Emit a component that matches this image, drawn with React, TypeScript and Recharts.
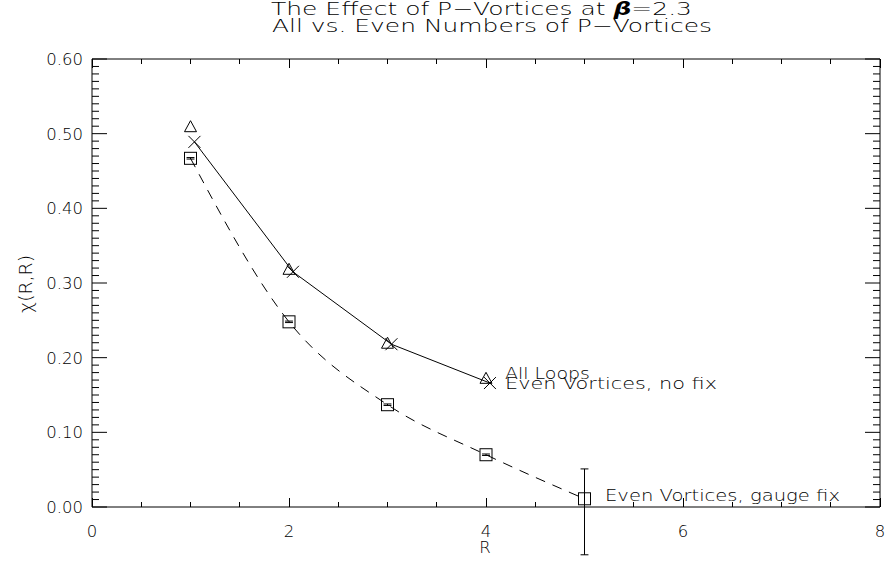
import { ComposedChart, Line, Scatter, XAxis, YAxis, ReferenceLine } from 'recharts';

// tick positions
const xTicks = [0, 0.5, 1, 1.5, 2, 2.5, 3, 3.5, 4, 4.5, 5, 5.5, 6, 6.5, 7, 7.5, 8];
const xLabels = [0, 2, 4, 6, 8];
const yLabels = [0, 0.1, 0.2, 0.3, 0.4, 0.5, 0.6];
const yTicks: number[] = [];
for (let i = 0; i <= 60; i++) yTicks.push(i / 100);

// All loops (triangles)
const allX = [1, 2, 3, 4];
const allY = [0.508, 0.317, 0.218, 0.171];

// Even vortices, no fix (crosses, solid line)
const noFixX = [1.04, 2.04, 3.04, 4.04];
const noFixY = [0.489, 0.315, 0.218, 0.166];

// Even vortices, gauge fix (squares, dashed)
const gaugeX = [1, 2, 3, 4, 5];
const gaugeY = [0.467, 0.248, 0.137, 0.07, 0.011];
const gaugeErrLo = [0.001, 0.001, 0.001, 0.001, 0.075];
const gaugeErrHi = [0.001, 0.001, 0.001, 0.001, 0.04];

const allData = allX.map((x, i) => ({ x, y: allY[i] }));
const noFixData = noFixX.map((x, i) => ({ x, y: noFixY[i] }));
const gaugeData = gaugeX.map((x, i) => ({ x, y: gaugeY[i] }));

const FONT = '"DejaVu Sans", sans-serif';
const near = (a: number, b: number) => Math.abs(a - b) < 1e-6;
const isXMajor = (v: number) => near(v % 2, 0);
const isYMajor = (v: number) => yLabels.some((l) => near(l, v));
const snap = (n: number) => Math.floor(Number(n)) + 0.5;
// y tick length expressed in x units (plot is 788px for 8 units)
const X_PER_PX = 8 / 788;

// labels only; the tick marks are drawn by ReferenceLines below
const BottomLabel = (p: any) => {
  const v = Number(p.payload.value);
  if (!xLabels.some((l) => near(l, v))) return <g />;
  return (
    <text x={p.x} y={Number(p.y) + 30} textAnchor="middle" fontSize={16.5} fontFamily={FONT} fontWeight={200} fill="#000">
      {v}
    </text>
  );
};

const LeftLabel = (p: any) => {
  const v = Number(p.payload.value);
  if (!isYMajor(v)) return <g />;
  return (
    <text x={Number(p.x) - 9} y={Number(p.y) + 6} textAnchor="end" fontSize={16.5} fontFamily={FONT} fontWeight={200} fill="#000">
      {v.toFixed(2)}
    </text>
  );
};

const xTickShape = (v: number) => (p: any) => {
  const len = isXMajor(v) ? 9 : 5;
  const top = Math.min(p.y1, p.y2);
  const bottom = Math.max(p.y1, p.y2);
  const x = snap(p.x1);
  return (
    <path
      d={`M${x},${bottom}V${bottom - len}M${x},${top}V${top + len}`}
      stroke="#000"
      strokeWidth={1}
      fill="none"
      shapeRendering="crispEdges"
    />
  );
};

const Triangle = (p: any) => (
  <path d={`M${p.cx},${p.cy - 7} L${p.cx + 6},${p.cy + 4} L${p.cx - 6},${p.cy + 4} Z`} fill="none" stroke="#000" />
);
const Cross = (p: any) => (
  <path d={`M${p.cx - 6},${p.cy - 6} L${p.cx + 6},${p.cy + 6} M${p.cx - 6},${p.cy + 6} L${p.cx + 6},${p.cy - 6}`} stroke="#000" />
);
const Square = (p: any) => <rect x={p.cx - 6} y={p.cy - 6} width={12} height={12} fill="none" stroke="#000" />;

const txt = { fontFamily: FONT, fontWeight: 200, fill: '#000' } as const;

export default function App() {
  return (
    <div style={{ position: 'absolute', left: 0, top: 0, width: 885, height: 566, background: '#fff' }}>
      <ComposedChart width={885} height={566} margin={{ top: 58, right: 4, bottom: 58, left: 91 }}>
        <XAxis
          xAxisId={0}
          type="number"
          dataKey="x"
          domain={[0, 8]}
          ticks={xTicks}
          interval={0}
          height={1}
          tickSize={0}
          tickMargin={0}
          tickLine={false}
          tick={BottomLabel}
          axisLine={{ stroke: '#000' }}
        />
        <XAxis
          xAxisId="top"
          orientation="top"
          type="number"
          domain={[0, 8]}
          ticks={xTicks}
          height={1}
          tickLine={false}
          tick={false}
          axisLine={{ stroke: '#000' }}
        />
        <YAxis
          yAxisId={0}
          type="number"
          dataKey="y"
          domain={[0, 0.6]}
          ticks={yTicks}
          interval={0}
          width={1}
          tickSize={0}
          tickMargin={0}
          tickLine={false}
          tick={LeftLabel}
          axisLine={{ stroke: '#000' }}
        />
        <YAxis
          yAxisId="right"
          orientation="right"
          type="number"
          domain={[0, 0.6]}
          ticks={yTicks}
          width={1}
          tickLine={false}
          tick={false}
          axisLine={{ stroke: '#000' }}
        />
        {xTicks.map((v) => (
          <ReferenceLine key={'xt' + v} x={v} stroke="#000" shape={xTickShape(v)} />
        ))}
        {yTicks.map((v) => (
          <ReferenceLine
            key={'yl' + v}
            segment={[
              { x: 0, y: v },
              { x: (isYMajor(v) ? 15 : 7) * X_PER_PX, y: v },
            ]}
            stroke="#000"
            strokeWidth={1}
            ifOverflow="visible"
          />
        ))}
        {yTicks.map((v) => (
          <ReferenceLine
            key={'yr' + v}
            segment={[
              { x: 8 - (isYMajor(v) ? 15 : 7) * X_PER_PX, y: v },
              { x: 8, y: v },
            ]}
            stroke="#000"
            strokeWidth={1}
            ifOverflow="visible"
          />
        ))}
        <Line
          data={noFixData}
          dataKey="y"
          type="linear"
          stroke="#000"
          strokeWidth={1}
          dot={false}
          isAnimationActive={false}
        />
        <Line
          data={gaugeData}
          dataKey="y"
          type="monotone"
          stroke="#000"
          strokeWidth={1}
          strokeDasharray="10 8"
          dot={false}
          isAnimationActive={false}
        />
        <Scatter data={allData} dataKey="y" shape={Triangle} isAnimationActive={false} />
        <Scatter data={noFixData} dataKey="y" shape={Cross} isAnimationActive={false} />
        <Scatter data={gaugeData} dataKey="y" shape={Square} isAnimationActive={false} />
        {gaugeData.map((d, i) => (
          <ReferenceLine
            key={'e' + i}
            segment={[
              { x: d.x, y: d.y - gaugeErrLo[i] },
              { x: d.x, y: d.y + gaugeErrHi[i] },
            ]}
            stroke="#000"
            ifOverflow="visible"
          />
        ))}
        {gaugeData.map((d, i) => (
          <ReferenceLine
            key={'h' + i}
            segment={[
              { x: d.x - 0.04, y: d.y + gaugeErrHi[i] },
              { x: d.x + 0.04, y: d.y + gaugeErrHi[i] },
            ]}
            stroke="#000"
            ifOverflow="visible"
          />
        ))}
        {gaugeData.map((d, i) => (
          <ReferenceLine
            key={'l' + i}
            segment={[
              { x: d.x - 0.04, y: d.y - gaugeErrLo[i] },
              { x: d.x + 0.04, y: d.y - gaugeErrLo[i] },
            ]}
            stroke="#000"
            ifOverflow="visible"
          />
        ))}
      </ComposedChart>
      <svg
        width={885}
        height={566}
        style={{ position: 'absolute', left: 0, top: 0, pointerEvents: 'none' }}
      >
        <text x={271} y={15} fontSize={17} textLength={421} lengthAdjust="spacingAndGlyphs" {...txt}>
          The Effect of P−Vortices at{' '}
          <tspan fontStyle="italic" fontWeight={700}>β</tspan>=2.3
        </text>
        <text x={272} y={32} fontSize={17} textLength={440} lengthAdjust="spacingAndGlyphs" {...txt}>
          All vs. Even Numbers of P−Vortices
        </text>
        <text x={485} y={553} fontSize={16.5} textAnchor="middle" {...txt}>
          R
        </text>
        <text
          x={0}
          y={0}
          fontSize={18}
          textAnchor="middle"
          textLength={58}
          lengthAdjust="spacingAndGlyphs"
          transform="translate(32,284) rotate(-90)"
          {...txt}
        >
          χ(R,R)
        </text>
        <text x={505} y={379} fontSize={16} textLength={85} lengthAdjust="spacingAndGlyphs" {...txt}>
          All Loops
        </text>
        <text x={505} y={389} fontSize={16} textLength={212} lengthAdjust="spacingAndGlyphs" {...txt}>
          Even Vortices, no fix
        </text>
        <text x={605} y={501} fontSize={16} textLength={235} lengthAdjust="spacingAndGlyphs" {...txt}>
          Even Vortices, gauge fix
        </text>
      </svg>
    </div>
  );
}
